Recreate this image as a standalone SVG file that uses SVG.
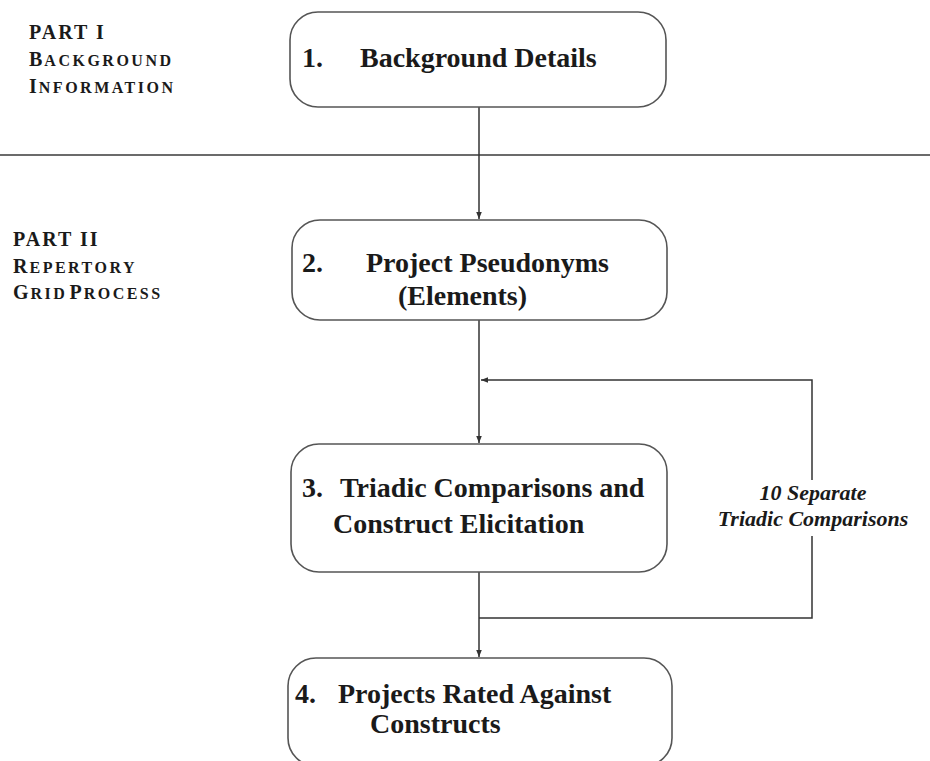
<svg xmlns="http://www.w3.org/2000/svg" width="930" height="761" viewBox="0 0 930 761">
  <style>
    .box { fill: #ffffff; stroke: #555555; stroke-width: 1.6; }
    .wire { fill: none; stroke: #333333; stroke-width: 1.5; }
    .sep { fill: none; stroke: #3a3a3a; stroke-width: 1.6; }
    .t { font-family: "Liberation Serif", "Times New Roman", serif; font-weight: bold; font-size: 28px; fill: #1a1a1a; }
    .part { font-family: "Liberation Serif", "Times New Roman", serif; font-weight: bold; font-size: 20px; fill: #1a1a1a; letter-spacing: 2px; }
    .sc { font-size: 16px; letter-spacing: 2.5px; }
    .note { font-family: "Liberation Serif", "Times New Roman", serif; font-weight: bold; font-style: italic; font-size: 22px; fill: #1a1a1a; text-anchor: middle; }
  </style>
  <defs>
    <marker id="arrow" viewBox="0 0 10 10" refX="10" refY="5" markerWidth="7" markerHeight="7" markerUnits="userSpaceOnUse" orient="auto">
      <path d="M0,1 L10,5 L0,9 Z" fill="#333333"/>
    </marker>
  </defs>

  <rect width="930" height="761" fill="#ffffff"/>

  <!-- section labels -->
  <g id="part1-label">
    <text class="part" x="29" y="39">PART I</text>
    <text class="part" x="29" y="66"><tspan>B</tspan><tspan class="sc">ACKGROUND</tspan></text>
    <text class="part" x="29" y="93"><tspan>I</tspan><tspan class="sc">NFORMATION</tspan></text>
  </g>
  <g id="part2-label">
    <text class="part" x="13" y="246">PART II</text>
    <text class="part" x="13" y="273"><tspan>R</tspan><tspan class="sc">EPERTORY</tspan></text>
    <text class="part" x="13" y="299"><tspan>G</tspan><tspan class="sc">RID</tspan><tspan dx="2">P</tspan><tspan class="sc">ROCESS</tspan></text>
  </g>

  <!-- divider between the two parts -->
  <line class="sep" x1="0" y1="155" x2="930" y2="155"/>

  <!-- connectors -->
  <g id="connectors">
    <line class="wire" x1="479" y1="107" x2="479" y2="219" marker-end="url(#arrow)"/>
    <line class="wire" x1="479" y1="320" x2="479" y2="443" marker-end="url(#arrow)"/>
    <line class="wire" x1="479" y1="572" x2="479" y2="657" marker-end="url(#arrow)"/>
    <!-- repeat loop back above step 3 -->
    <polyline class="wire" points="479,618 812,618 812,536"/>
    <polyline class="wire" points="812,480 812,380 481,380" marker-end="url(#arrow)"/>
  </g>

  <g id="loop-label">
    <text class="note" x="813" y="500">10 Separate</text>
    <text class="note" x="813" y="526">Triadic Comparisons</text>
  </g>

  <!-- steps -->
  <g id="step1">
    <rect class="box" x="290" y="12" width="376" height="95" rx="28" ry="28"/>
    <text class="t" x="302" y="67">1.</text>
    <text class="t" x="360" y="67">Background Details</text>
  </g>
  <g id="step2">
    <rect class="box" x="292" y="220" width="375" height="100" rx="28" ry="28"/>
    <text class="t" x="302" y="272">2.</text>
    <text class="t" x="366" y="272">Project Pseudonyms</text>
    <text class="t" x="398" y="305">(Elements)</text>
  </g>
  <g id="step3">
    <rect class="box" x="291" y="444" width="376" height="128" rx="28" ry="28"/>
    <text class="t" x="302" y="497">3.</text>
    <text class="t" x="340" y="497">Triadic Comparisons and</text>
    <text class="t" x="333" y="533">Construct Elicitation</text>
  </g>
  <g id="step4">
    <rect class="box" x="288" y="658" width="384" height="108" rx="28" ry="28"/>
    <text class="t" x="295" y="703">4.</text>
    <text class="t" x="338" y="703">Projects Rated Against</text>
    <text class="t" x="370" y="733">Constructs</text>
  </g>
</svg>
